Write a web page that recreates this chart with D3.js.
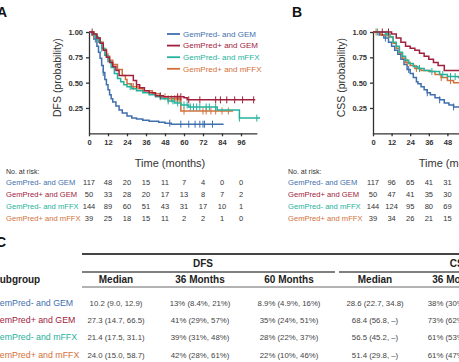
<!DOCTYPE html>
<meta charset="utf-8">
<script src="https://d3js.org/d3.v7.min.js"></script>
<style>
body { margin: 0; background: #fff; }
svg { font-family: "Liberation Sans", Arial, sans-serif; }
.eixo path, .eixo line { stroke: #333; stroke-width: 1.3; }
.eixo text { fill: #333; font-size: 7.5px; font-weight: bold; }
.risco { fill: #333; font-size: 7.5px; }
.tabela { fill: #444; font-size: 7.8px; }
.cab { fill: #222; font-size: 10px; font-weight: bold; }
</style>
<body>
<script>

// grupos e cores
var grupos = ["GemPred- and GEM", "GemPred+ and GEM", "GemPred- and mFFX", "GemPred+ and mFFX"];
var cores = ["#3f6fad", "#a1213c", "#25b29c", "#d3703a"];

var tempos = [0, 12, 24, 36, 48, 60, 72, 84, 96];
var probs = [0.25, 0.50, 0.75, 1.00];

// DFS (painel A) -- [meses, probabilidade]
var dfsGemNeg = [[0,1],[2,0.97],[3,0.93],[5,0.86],[6,0.80],[7,0.74],[8,0.67],[9,0.60],[10,0.53],[11,0.48],[12,0.43],[13,0.38],[14,0.34],[15,0.31],[17,0.27],[19,0.23],[21,0.20],[24,0.17],[27,0.15],[30,0.14],[34,0.13],[38,0.12],[44,0.11],[48,0.10],[52,0.09],[85,0.09]];
var dfsGemPos = [[0,1],[3,0.98],[5,0.94],[7,0.89],[9,0.82],[11,0.75],[13,0.70],[15,0.66],[17,0.62],[19,0.57],[28,0.52],[30,0.48],[32,0.45],[35,0.42],[38,0.40],[42,0.37],[47,0.36],[60,0.35],[62,0.33],[105,0.33]];
var dfsFfxNeg = [[0,1],[2,0.98],[4,0.95],[6,0.90],[8,0.84],[10,0.77],[12,0.71],[14,0.65],[16,0.59],[18,0.54],[20,0.51],[22,0.48],[24,0.46],[27,0.44],[30,0.42],[34,0.40],[38,0.38],[42,0.36],[46,0.34],[50,0.32],[54,0.30],[58,0.28],[63,0.26],[81,0.23],[95,0.15],[108,0.15]];
var dfsFfxPos = [[0,1],[3,0.97],[5,0.94],[7,0.90],[9,0.83],[11,0.76],[13,0.72],[15,0.68],[18,0.63],[21,0.57],[23,0.53],[24,0.49],[27,0.46],[31,0.44],[34,0.42],[40,0.39],[45,0.36],[50,0.34],[58,0.22],[91,0.22]];
var dfsCensGemNeg = [4, 9, 51, 58, 63, 67, 70, 72, 73, 78];
var dfsCensGemPos = [2, 30, 45, 56, 58, 63, 70, 80, 83, 87, 92, 97, 104];
var dfsCensFfxNeg = [5, 8, 26, 45, 50, 53, 56, 60, 62, 64, 66, 68, 70, 74, 76, 80, 95, 106];
var dfsCensFfxPos = [3, 12, 28, 48, 50, 52, 54, 55, 56, 57, 60, 72, 74, 77, 80, 84, 88];

// CSS (painel B)
var cssGemNeg = [[0,1],[4,0.97],[7,0.94],[10,0.90],[12,0.86],[14,0.82],[16,0.78],[18,0.73],[20,0.68],[22,0.63],[24,0.59],[26,0.55],[28,0.51],[29,0.49],[31,0.46],[33,0.43],[35,0.40],[37,0.38],[40,0.35],[43,0.33],[46,0.30],[49,0.28],[52,0.26],[56,0.24],[60,0.23]];
var cssGemPos = [[0,1],[12,0.98],[15,0.94],[18,0.90],[21,0.86],[24,0.84],[27,0.82],[30,0.79],[33,0.76],[36,0.73],[39,0.70],[42,0.67],[46,0.62],[60,0.62]];
var cssFfxNeg = [[0,1],[8,0.98],[11,0.95],[13,0.90],[15,0.86],[17,0.80],[19,0.76],[21,0.72],[23,0.69],[26,0.66],[29,0.64],[33,0.62],[37,0.61],[43,0.58],[48,0.56],[55,0.55],[60,0.55]];
var cssFfxPos = [[0,1],[5,0.97],[10,0.95],[13,0.89],[15,0.84],[17,0.79],[19,0.74],[21,0.70],[24,0.67],[27,0.64],[31,0.62],[36,0.61],[40,0.58],[44,0.55],[48,0.52],[52,0.50],[60,0.50]];
var cssCensGemNeg = [8, 23, 35, 43, 52];
var cssCensGemPos = [6, 10];
var cssCensFfxNeg = [3, 9, 30, 38, 45, 50, 53, 56];
var cssCensFfxPos = [2, 22, 28, 44, 50];

// numero em risco
var riscoDfs = [
    [117, 48, 20, 15, 11, 7, 4, 0, 0],
    [50, 33, 28, 20, 17, 13, 8, 7, 2],
    [144, 89, 60, 51, 43, 31, 17, 10, 1],
    [39, 25, 18, 15, 11, 2, 2, 1, 0]
];
var riscoCss = [
    [117, 96, 65, 41, 31],
    [50, 47, 41, 35, 30],
    [144, 124, 95, 80, 69],
    [39, 34, 26, 21, 15]
];

// tabela C
var dfsMediana = ["10.2 (9.0, 12.9)", "27.3 (14.7, 66.5)", "21.4 (17.5, 31.1)", "24.0 (15.0, 58.7)"];
var dfs36 = ["13% (8.4%, 21%)", "41% (29%, 57%)", "39% (31%, 48%)", "42% (28%, 61%)"];
var dfs60 = ["8.9% (4.9%, 16%)", "35% (24%, 51%)", "28% (22%, 37%)", "22% (10%, 46%)"];
var cssMediana = ["28.6 (22.7, 34.8)", "68.4 (56.8, \u2013)", "56.5 (45.2, \u2013)", "51.4 (29.8, \u2013)"];
var css36 = ["38% (30%, 48%)", "73% (62%, 86%)", "61% (53%, 70%)", "61% (47%, 79%)"];

var width = 459, height = 362;
var svg = d3.select("body").append("svg")
    .attr("width", width)
    .attr("height", height);

// valor da curva em degrau no tempo t
function valorEm(serie, t) {
    var v = serie[0][1];
    serie.forEach(function(d) { if (d[0] <= t) v = d[1]; });
    return v;
}

function painelKM(x, y, series, censuras, rotuloY) {
    var g = svg.append("g");

    // eixo Y
    g.append("g")
        .attr("class", "eixo")
        .attr("transform", "translate(" + x.range()[0] + ",0)")
        .call(d3.axisLeft(y).tickValues(probs).tickFormat(d3.format(".2f")).tickSize(3).tickSizeOuter(0))
        .attr("font-family", null).attr("font-size", null);

    // eixo X
    g.append("g")
        .attr("class", "eixo")
        .attr("transform", "translate(0," + y(0) + ")")
        .call(d3.axisBottom(x).tickValues(tempos).tickSize(3).tickSizeOuter(0))
        .attr("font-family", null).attr("font-size", null);

    var linha = d3.line()
        .curve(d3.curveStepAfter)
        .x(function(d) { return x(d[0]); })
        .y(function(d) { return y(d[1]); });

    [0, 3, 2, 1].forEach(function(i) {
        g.append("path")
            .attr("d", linha(series[i]))
            .attr("fill", "none")
            .attr("stroke", cores[i])
            .attr("stroke-width", 1.5);
        g.selectAll(".cens" + i)
            .data(censuras[i])
            .enter()
            .append("line")
            .attr("x1", function(t) { return x(t); })
            .attr("x2", function(t) { return x(t); })
            .attr("y1", function(t) { return y(valorEm(series[i], t)) - 3.5; })
            .attr("y2", function(t) { return y(valorEm(series[i], t)) + 3.5; })
            .attr("stroke", cores[i])
            .attr("stroke-width", 1);
    });

    var meioY = (y(0) + y(1)) / 2 - 5;
    g.append("text")
        .attr("transform", "translate(" + (x.range()[0] - 28) + "," + meioY + ") rotate(-90)")
        .attr("text-anchor", "middle")
        .style("font-size", "10.5px")
        .style("fill", "#333")
        .text(rotuloY);

    g.append("text")
        .attr("x", x(0) + 81)
        .attr("y", y(0) + 34)
        .attr("text-anchor", "middle")
        .style("font-size", "11px")
        .style("fill", "#333")
        .text("Time (months)");
}

function tabelaRisco(x, xRotulo, risco) {
    svg.append("text")
        .attr("x", xRotulo).attr("y", 174)
        .attr("class", "risco")
        .style("font-size", "7px")
        .text("No. at risk:");
    risco.forEach(function(linhaR, i) {
        var yy = 185 + i * 12;
        svg.append("text")
            .attr("x", xRotulo).attr("y", yy)
            .style("font-size", "7.6px")
            .style("fill", cores[i])
            .text(grupos[i]);
        svg.selectAll(".r" + xRotulo + "_" + i)
            .data(linhaR)
            .enter()
            .append("text")
            .attr("class", "risco")
            .attr("x", function(d, j) { return x(tempos[j]); })
            .attr("y", yy)
            .attr("text-anchor", "middle")
            .text(function(d) { return d; });
    });
}

// painel A
var xA = d3.scaleLinear().domain([0, 106]).range([89, 89 + 106 * 152 / 96]);
var yA = d3.scaleLinear().domain([0, 1]).range([133.3, 32]);
painelKM(xA, yA, [dfsGemNeg, dfsGemPos, dfsFfxNeg, dfsFfxPos],
    [dfsCensGemNeg, dfsCensGemPos, dfsCensFfxNeg, dfsCensFfxPos], "DFS (probability)");

// legenda
grupos.forEach(function(nome, i) {
    var yy = 34 + i * 11.6;
    svg.append("line")
        .attr("x1", 167).attr("x2", 180)
        .attr("y1", yy).attr("y2", yy)
        .attr("stroke", cores[i]).attr("stroke-width", 1.8);
    svg.append("text")
        .attr("x", 183).attr("y", yy + 2.8)
        .style("font-size", "8px")
        .style("fill", cores[i])
        .text(nome);
});

// painel B
var xB = d3.scaleLinear().domain([0, 106]).range([373, 373 + 106 * 1.55]);
var yB = d3.scaleLinear().domain([0, 1]).range([133.3, 32]);
painelKM(xB, yB, [cssGemNeg, cssGemPos, cssFfxNeg, cssFfxPos],
    [cssCensGemNeg, cssCensGemPos, cssCensFfxNeg, cssCensFfxPos], "CSS (probability)");

tabelaRisco(xA, 6, riscoDfs);
tabelaRisco(xB, 288, riscoCss);

// letras dos paineis
[["A", -3, 17], ["B", 292, 17], ["C", -4, 247]].forEach(function(p) {
    svg.append("text")
        .attr("x", p[1]).attr("y", p[2])
        .style("font-size", "14px")
        .style("font-weight", "bold")
        .style("fill", "#111")
        .text(p[0]);
});

// tabela C ---------------------------------------------
svg.append("line").attr("x1", 82).attr("x2", 459).attr("y1", 254).attr("y2", 254)
    .attr("stroke", "#444").attr("stroke-width", 2);
svg.append("line").attr("x1", 82).attr("x2", 335).attr("y1", 272).attr("y2", 272)
    .attr("stroke", "#555").attr("stroke-width", 1.5);
svg.append("line").attr("x1", 339).attr("x2", 459).attr("y1", 272).attr("y2", 272)
    .attr("stroke", "#555").attr("stroke-width", 1.5);
svg.append("line").attr("x1", 82).attr("x2", 459).attr("y1", 287).attr("y2", 287)
    .attr("stroke", "#666").attr("stroke-width", 1);

svg.append("text").attr("class", "cab").attr("x", 203).attr("y", 267)
    .attr("text-anchor", "middle").text("DFS");
svg.append("text").attr("class", "cab").attr("x", 460).attr("y", 267)
    .attr("text-anchor", "middle").text("CSS");

var colunasX = [116, 200, 289, 375, 457];
var colunasNome = ["Median", "36 Months", "60 Months", "Median", "36 Months"];
svg.append("text").attr("class", "cab").attr("x", -7).attr("y", 283).text("Subgroup");
colunasNome.forEach(function(n, j) {
    svg.append("text").attr("class", "cab")
        .attr("x", colunasX[j]).attr("y", 283)
        .attr("text-anchor", "middle")
        .text(n);
});

var colunas = [dfsMediana, dfs36, dfs60, cssMediana, css36];
grupos.forEach(function(nome, i) {
    var yy = 306 + i * 17.2;
    svg.append("text")
        .attr("x", -7).attr("y", yy)
        .style("font-size", "8.8px")
        .style("fill", cores[i])
        .text(nome);
    colunas.forEach(function(col, j) {
        svg.append("text")
            .attr("class", "tabela")
            .attr("x", colunasX[j]).attr("y", yy)
            .attr("text-anchor", "middle")
            .text(col[i]);
    });
});
</script>
</body>
